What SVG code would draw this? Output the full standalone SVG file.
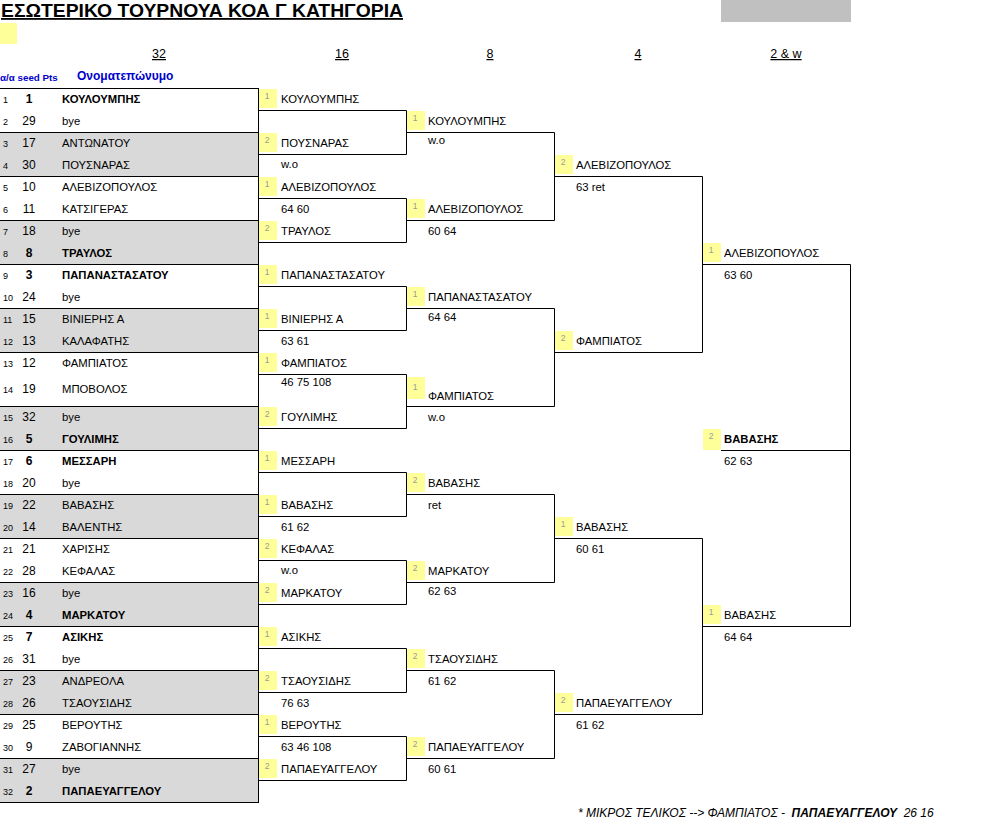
<svg xmlns="http://www.w3.org/2000/svg" width="991" height="828" viewBox="0 0 991 828">
<style>
text{font-family:"Liberation Sans",Arial,sans-serif;fill:#000}
.n{font-size:11.3px}
.b{font-weight:bold}
.i{font-size:9px}
.s{font-size:12px;text-anchor:middle}
.y{fill:#FFFF99}
.d{font-size:8.5px;fill:#9a9a9a;text-anchor:middle}
.g{fill:#D9D9D9}
.ln{fill:none;stroke:#000;stroke-width:1}
.h{font-size:12.5px;text-anchor:middle;text-decoration:underline}
.bl{fill:#0000CC;font-weight:bold}
.f{font-size:12px;font-style:italic}
</style>
<rect width="991" height="828" fill="#fff"/>
<g id="header">
<text x="1" y="17" font-size="18" font-weight="bold" text-decoration="underline" textLength="402" lengthAdjust="spacingAndGlyphs">ΕΣΩΤΕΡΙΚΟ ΤΟΥΡΝΟΥΑ ΚΟΑ Γ ΚΑΤΗΓΟΡΙΑ</text>
<rect x="0" y="23" width="17" height="21" class="y"/>
<rect x="721" y="0" width="130" height="22" fill="#C0C0C0"/>
<text class="h" x="159" y="58">32</text>
<text class="h" x="342" y="58">16</text>
<text class="h" x="490" y="58">8</text>
<text class="h" x="638" y="58">4</text>
<text class="h" x="786" y="58">2 &amp; w</text>
<text class="bl" x="0" y="81" font-size="9.8">α/α seed Pts</text>
<text class="bl" x="77" y="80" font-size="12">Ονοματεπώνυμο</text>
</g>
<g id="round32">
<g id="m01"><text class="i" x="3" y="103">1</text><text class="s b" x="29" y="103">1</text><text class="n b" x="62" y="103">ΚΟΥΛΟΥΜΠΗΣ</text><text class="i" x="3" y="125">2</text><text class="s" x="29" y="125">29</text><text class="n" x="62" y="125">bye</text></g>
<g id="m02"><rect class="g" x="0" y="132" width="258" height="44"/><text class="i" x="3" y="147">3</text><text class="s" x="29" y="147">17</text><text class="n" x="62" y="147">ΑΝΤΩΝΑΤΟΥ</text><text class="i" x="3" y="169">4</text><text class="s" x="29" y="169">30</text><text class="n" x="62" y="169">ΠΟΥΣΝΑΡΑΣ</text></g>
<g id="m03"><text class="i" x="3" y="191">5</text><text class="s" x="29" y="191">10</text><text class="n" x="62" y="191">ΑΛΕΒΙΖΟΠΟΥΛΟΣ</text><text class="i" x="3" y="213">6</text><text class="s" x="29" y="213">11</text><text class="n" x="62" y="213">ΚΑΤΣΙΓΕΡΑΣ</text></g>
<g id="m04"><rect class="g" x="0" y="220" width="258" height="44"/><text class="i" x="3" y="235">7</text><text class="s" x="29" y="235">18</text><text class="n" x="62" y="235">bye</text><text class="i" x="3" y="257">8</text><text class="s b" x="29" y="257">8</text><text class="n b" x="62" y="257">ΤΡΑΥΛΟΣ</text></g>
<g id="m05"><text class="i" x="3" y="279">9</text><text class="s b" x="29" y="279">3</text><text class="n b" x="62" y="279">ΠΑΠΑΝΑΣΤΑΣΑΤΟΥ</text><text class="i" x="3" y="301">10</text><text class="s" x="29" y="301">24</text><text class="n" x="62" y="301">bye</text></g>
<g id="m06"><rect class="g" x="0" y="308" width="258" height="44"/><text class="i" x="3" y="323">11</text><text class="s" x="29" y="323">15</text><text class="n" x="62" y="323">ΒΙΝΙΕΡΗΣ Α</text><text class="i" x="3" y="345">12</text><text class="s" x="29" y="345">13</text><text class="n" x="62" y="345">ΚΑΛΑΦΑΤΗΣ</text></g>
<g id="m07"><text class="i" x="3" y="367">13</text><text class="s" x="29" y="367">12</text><text class="n" x="62" y="367">ΦΑΜΠΙΑΤΟΣ</text><text class="i" x="3" y="393">14</text><text class="s" x="29" y="393">19</text><text class="n" x="62" y="393">ΜΠΟΒΟΛΟΣ</text></g>
<g id="m08"><rect class="g" x="0" y="406" width="258" height="44"/><text class="i" x="3" y="421">15</text><text class="s" x="29" y="421">32</text><text class="n" x="62" y="421">bye</text><text class="i" x="3" y="443">16</text><text class="s b" x="29" y="443">5</text><text class="n b" x="62" y="443">ΓΟΥΛΙΜΗΣ</text></g>
<g id="m09"><text class="i" x="3" y="465">17</text><text class="s b" x="29" y="465">6</text><text class="n b" x="62" y="465">ΜΕΣΣΑΡΗ</text><text class="i" x="3" y="487">18</text><text class="s" x="29" y="487">20</text><text class="n" x="62" y="487">bye</text></g>
<g id="m10"><rect class="g" x="0" y="494" width="258" height="44"/><text class="i" x="3" y="509">19</text><text class="s" x="29" y="509">22</text><text class="n" x="62" y="509">ΒΑΒΑΣΗΣ</text><text class="i" x="3" y="531">20</text><text class="s" x="29" y="531">14</text><text class="n" x="62" y="531">ΒΑΛΕΝΤΗΣ</text></g>
<g id="m11"><text class="i" x="3" y="553">21</text><text class="s" x="29" y="553">21</text><text class="n" x="62" y="553">ΧΑΡΙΣΗΣ</text><text class="i" x="3" y="575">22</text><text class="s" x="29" y="575">28</text><text class="n" x="62" y="575">ΚΕΦΑΛΑΣ</text></g>
<g id="m12"><rect class="g" x="0" y="582" width="258" height="44"/><text class="i" x="3" y="597">23</text><text class="s" x="29" y="597">16</text><text class="n" x="62" y="597">bye</text><text class="i" x="3" y="619">24</text><text class="s b" x="29" y="619">4</text><text class="n b" x="62" y="619">ΜΑΡΚΑΤΟΥ</text></g>
<g id="m13"><text class="i" x="3" y="641">25</text><text class="s b" x="29" y="641">7</text><text class="n b" x="62" y="641">ΑΣΙΚΗΣ</text><text class="i" x="3" y="663">26</text><text class="s" x="29" y="663">31</text><text class="n" x="62" y="663">bye</text></g>
<g id="m14"><rect class="g" x="0" y="670" width="258" height="44"/><text class="i" x="3" y="685">27</text><text class="s" x="29" y="685">23</text><text class="n" x="62" y="685">ΑΝΔΡΕΟΛΑ</text><text class="i" x="3" y="707">28</text><text class="s" x="29" y="707">26</text><text class="n" x="62" y="707">ΤΣΑΟΥΣΙΔΗΣ</text></g>
<g id="m15"><text class="i" x="3" y="729">29</text><text class="s" x="29" y="729">25</text><text class="n" x="62" y="729">ΒΕΡΟΥΤΗΣ</text><text class="i" x="3" y="751">30</text><text class="s" x="29" y="751">9</text><text class="n" x="62" y="751">ΖΑΒΟΓΙΑΝΝΗΣ</text></g>
<g id="m16"><rect class="g" x="0" y="758" width="258" height="44"/><text class="i" x="3" y="773">31</text><text class="s" x="29" y="773">27</text><text class="n" x="62" y="773">bye</text><text class="i" x="3" y="795">32</text><text class="s b" x="29" y="795">2</text><text class="n b" x="62" y="795">ΠΑΠΑΕΥΑΓΓΕΛΟΥ</text></g>
</g>
<g id="round16">
<g id="e2-01"><rect class="y" x="259" y="89" width="18" height="19"/><text class="d" x="267" y="99">1</text><text class="n" x="281" y="103">ΚΟΥΛΟΥΜΠΗΣ</text></g>
<g id="e2-02"><rect class="y" x="259" y="133" width="18" height="19"/><text class="d" x="267" y="143">2</text><text class="n" x="281" y="147">ΠΟΥΣΝΑΡΑΣ</text><text class="n" x="281" y="168">w.o</text></g>
<g id="e2-03"><rect class="y" x="259" y="177" width="18" height="19"/><text class="d" x="267" y="187">1</text><text class="n" x="281" y="191">ΑΛΕΒΙΖΟΠΟΥΛΟΣ</text><text class="n" x="281" y="213">64 60</text></g>
<g id="e2-04"><rect class="y" x="259" y="221" width="18" height="19"/><text class="d" x="267" y="231">2</text><text class="n" x="281" y="235">ΤΡΑΥΛΟΣ</text></g>
<g id="e2-05"><rect class="y" x="259" y="265" width="18" height="19"/><text class="d" x="267" y="275">1</text><text class="n" x="281" y="279">ΠΑΠΑΝΑΣΤΑΣΑΤΟΥ</text></g>
<g id="e2-06"><rect class="y" x="259" y="309" width="18" height="19"/><text class="d" x="267" y="319">1</text><text class="n" x="281" y="323">ΒΙΝΙΕΡΗΣ Α</text><text class="n" x="281" y="345">63 61</text></g>
<g id="e2-07"><rect class="y" x="259" y="353" width="18" height="19"/><text class="d" x="267" y="363">1</text><text class="n" x="281" y="367">ΦΑΜΠΙΑΤΟΣ</text><text class="n" x="281" y="386">46 75 108</text></g>
<g id="e2-08"><rect class="y" x="259" y="407" width="18" height="19"/><text class="d" x="267" y="417">2</text><text class="n" x="281" y="421">ΓΟΥΛΙΜΗΣ</text></g>
<g id="e2-09"><rect class="y" x="259" y="451" width="18" height="19"/><text class="d" x="267" y="461">1</text><text class="n" x="281" y="465">ΜΕΣΣΑΡΗ</text></g>
<g id="e2-10"><rect class="y" x="259" y="495" width="18" height="19"/><text class="d" x="267" y="505">1</text><text class="n" x="281" y="509">ΒΑΒΑΣΗΣ</text><text class="n" x="281" y="531">61 62</text></g>
<g id="e2-11"><rect class="y" x="259" y="539" width="18" height="19"/><text class="d" x="267" y="549">2</text><text class="n" x="281" y="553">ΚΕΦΑΛΑΣ</text><text class="n" x="281" y="574">w.o</text></g>
<g id="e2-12"><rect class="y" x="259" y="583" width="18" height="19"/><text class="d" x="267" y="593">2</text><text class="n" x="281" y="597">ΜΑΡΚΑΤΟΥ</text></g>
<g id="e2-13"><rect class="y" x="259" y="627" width="18" height="19"/><text class="d" x="267" y="637">1</text><text class="n" x="281" y="641">ΑΣΙΚΗΣ</text></g>
<g id="e2-14"><rect class="y" x="259" y="671" width="18" height="19"/><text class="d" x="267" y="681">2</text><text class="n" x="281" y="685">ΤΣΑΟΥΣΙΔΗΣ</text><text class="n" x="281" y="707">76 63</text></g>
<g id="e2-15"><rect class="y" x="259" y="715" width="18" height="19"/><text class="d" x="267" y="725">1</text><text class="n" x="281" y="729">ΒΕΡΟΥΤΗΣ</text><text class="n" x="281" y="751">63 46 108</text></g>
<g id="e2-16"><rect class="y" x="259" y="759" width="18" height="19"/><text class="d" x="267" y="769">2</text><text class="n" x="281" y="773">ΠΑΠΑΕΥΑΓΓΕΛΟΥ</text></g>
</g>
<g id="round8">
<g id="e3-1"><rect class="y" x="407" y="111" width="18" height="19"/><text class="d" x="415" y="121">1</text><text class="n" x="428" y="125">ΚΟΥΛΟΥΜΠΗΣ</text><text class="n" x="428" y="144">w.o</text></g>
<g id="e3-2"><rect class="y" x="407" y="199" width="18" height="19"/><text class="d" x="415" y="209">1</text><text class="n" x="428" y="213">ΑΛΕΒΙΖΟΠΟΥΛΟΣ</text><text class="n" x="428" y="235">60 64</text></g>
<g id="e3-3"><rect class="y" x="407" y="287" width="18" height="19"/><text class="d" x="415" y="297">1</text><text class="n" x="428" y="301">ΠΑΠΑΝΑΣΤΑΣΑΤΟΥ</text><text class="n" x="428" y="321">64 64</text></g>
<g id="e3-4"><rect class="y" x="407" y="377" width="18" height="22"/><text class="d" x="415" y="390">1</text><text class="n" x="428" y="400">ΦΑΜΠΙΑΤΟΣ</text><text class="n" x="428" y="421">w.o</text></g>
<g id="e3-5"><rect class="y" x="407" y="473" width="18" height="19"/><text class="d" x="415" y="483">2</text><text class="n" x="428" y="487">ΒΑΒΑΣΗΣ</text><text class="n" x="428" y="509">ret</text></g>
<g id="e3-6"><rect class="y" x="407" y="561" width="18" height="19"/><text class="d" x="415" y="571">2</text><text class="n" x="428" y="575">ΜΑΡΚΑΤΟΥ</text><text class="n" x="428" y="595">62 63</text></g>
<g id="e3-7"><rect class="y" x="407" y="649" width="18" height="19"/><text class="d" x="415" y="659">2</text><text class="n" x="428" y="663">ΤΣΑΟΥΣΙΔΗΣ</text><text class="n" x="428" y="685">61 62</text></g>
<g id="e3-8"><rect class="y" x="407" y="737" width="18" height="19"/><text class="d" x="415" y="747">2</text><text class="n" x="428" y="751">ΠΑΠΑΕΥΑΓΓΕΛΟΥ</text><text class="n" x="428" y="773">60 61</text></g>
</g>
<g id="round4">
<g id="e4-1"><rect class="y" x="555" y="155" width="18" height="19"/><text class="d" x="563" y="165">2</text><text class="n" x="576" y="169">ΑΛΕΒΙΖΟΠΟΥΛΟΣ</text><text class="n" x="576" y="191">63 ret</text></g>
<g id="e4-2"><rect class="y" x="555" y="331" width="18" height="19"/><text class="d" x="563" y="341">2</text><text class="n" x="576" y="345">ΦΑΜΠΙΑΤΟΣ</text></g>
<g id="e4-3"><rect class="y" x="555" y="517" width="18" height="19"/><text class="d" x="563" y="527">1</text><text class="n" x="576" y="531">ΒΑΒΑΣΗΣ</text><text class="n" x="576" y="553">60 61</text></g>
<g id="e4-4"><rect class="y" x="555" y="693" width="18" height="19"/><text class="d" x="563" y="703">2</text><text class="n" x="576" y="707">ΠΑΠΑΕΥΑΓΓΕΛΟΥ</text><text class="n" x="576" y="729">61 62</text></g>
</g>
<g id="round2">
<g id="e5-1"><rect class="y" x="703" y="243" width="18" height="19"/><text class="d" x="711" y="253">1</text><text class="n" x="724" y="257">ΑΛΕΒΙΖΟΠΟΥΛΟΣ</text><text class="n" x="724" y="279">63 60</text></g>
<g id="e5-2"><rect class="y" x="703" y="605" width="18" height="19"/><text class="d" x="711" y="615">1</text><text class="n" x="724" y="619">ΒΑΒΑΣΗΣ</text><text class="n" x="724" y="641">64 64</text></g>
<g id="winner"><rect class="y" x="703" y="429" width="18" height="21"/><text class="d" x="711" y="439">2</text><text class="n b" x="724" y="443">ΒΑΒΑΣΗΣ</text><text class="n" x="724" y="465">62 63</text></g>
</g>
<g id="connectors" class="ln">
<path d="M0 88.5H258.5M0 132.5H258.5M0 176.5H258.5M0 220.5H258.5M0 264.5H258.5M0 308.5H258.5M0 352.5H258.5M0 406.5H258.5M0 450.5H258.5M0 494.5H258.5M0 538.5H258.5M0 582.5H258.5M0 626.5H258.5M0 670.5H258.5M0 714.5H258.5M0 758.5H258.5M0 802.5H258.5M258.5 88V803"/>
<path d="M258 110.5H406.5V154.5H258M258 198.5H406.5V242.5H258M258 286.5H406.5V330.5H258M258 374.5H406.5V428.5H258M258 472.5H406.5V516.5H258M258 560.5H406.5V604.5H258M258 648.5H406.5V692.5H258M258 736.5H406.5V780.5H258"/>
<path d="M406 132.5H554.5V220.5H406M406 308.5H554.5V406.5H406M406 494.5H554.5V582.5H406M406 670.5H554.5V758.5H406"/>
<path d="M554 176.5H702.5V352.5H554M554 538.5H702.5V714.5H554"/>
<path d="M702 264.5H850.5V626.5H702M721 450.5H850"/>
</g>
<g id="footer">
<text class="f" x="578" y="817" xml:space="preserve">* ΜΙΚΡΟΣ ΤΕΛΙΚΟΣ --&gt; ΦΑΜΠΙΑΤΟΣ -  <tspan font-weight="bold">ΠΑΠΑΕΥΑΓΓΕΛΟΥ</tspan>  26 16</text>
</g>
</svg>
